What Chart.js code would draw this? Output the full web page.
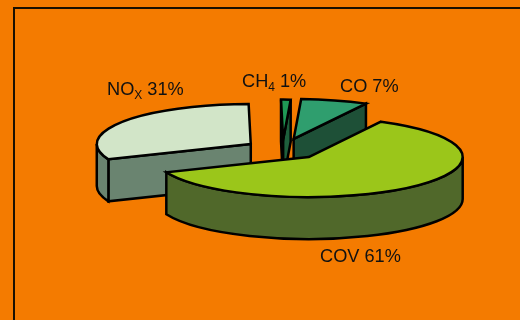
<!DOCTYPE html>
<html>
<head>
<meta charset="utf-8">
<style>
  html, body { margin: 0; padding: 0; background: #F47B00; }
  #wrap { width: 520px; height: 320px; }
</style>
<script src="https://cdn.jsdelivr.net/npm/chart.js@4"></script>
</head>
<body>
<div id="wrap"><canvas id="pie" width="520" height="320"></canvas></div>
<script>
const categories = ["COV", "NOx", "CH4", "CO"];
const shares = [61, 31, 1, 7];
const names = [["COV", ""], ["NO", "X"], ["CH", "4"], ["CO", ""]];

const topColors = ["#9BC61A", "#D2E5C8", "#1F9A55", "#2F9E6E"];
const sideColors = ["#50682A", "#6A8470", "#1E5F3C", "#1E5037"];
const explode = [39, 38, 38, 42];
const labelSpots = [[320, 262], [107, 95], [242, 87], [340, 92]];

// pie.js has no 3D mode, so the slices are extruded from the arc geometry
const extrudedPie = {
  id: "extrudedPie",
  beforeDatasetsDraw(chart, args, opts) {
    const ctx = chart.ctx;
    const arcs = chart.getDatasetMeta(0).data;
    const tilt = opts.tilt;
    const slices = arcs.map((arc, i) => {
      const p = arc.getProps(["x", "y", "startAngle", "endAngle", "outerRadius"]);
      const mid = (p.startAngle + p.endAngle) / 2;
      return {
        i,
        x: p.x + Math.cos(mid) * arc.options.offset,
        y: p.y + Math.sin(mid) * arc.options.offset * tilt,
        a: p.startAngle,
        b: p.endAngle,
        r: p.outerRadius,
        fill: arc.options.backgroundColor,
        stroke: arc.options.borderColor,
        width: arc.options.borderWidth
      };
    });

    // back slices first
    slices.sort((s, t) => s.y - t.y).forEach(s => {
      ctx.save();
      ctx.lineJoin = "miter";
      ctx.strokeStyle = s.stroke;
      ctx.lineWidth = s.width;
      ctx.fillStyle = opts.sides[s.i];

      // cut faces, only those turned towards the viewer
      if (Math.cos(s.a) < 0) wall(ctx, s, s.a, opts.depth, tilt);
      if (Math.cos(s.b) > 0) wall(ctx, s, s.b, opts.depth, tilt);

      // rim, the part on the front half of the ellipse
      for (let k = -1; k <= 1; k++) {
        const from = Math.max(s.a, k * 2 * Math.PI);
        const to = Math.min(s.b, k * 2 * Math.PI + Math.PI);
        if (to <= from) continue;
        ctx.beginPath();
        ctx.ellipse(s.x, s.y, s.r, s.r * tilt, 0, from, to);
        ctx.ellipse(s.x, s.y + opts.depth, s.r, s.r * tilt, 0, to, from, true);
        ctx.closePath();
        ctx.fill();
        ctx.stroke();
      }

      // top face
      ctx.fillStyle = s.fill;
      ctx.beginPath();
      ctx.moveTo(s.x, s.y);
      ctx.ellipse(s.x, s.y, s.r, s.r * tilt, 0, s.a, s.b);
      ctx.closePath();
      ctx.fill();
      ctx.stroke();
      ctx.restore();
    });
    return false;
  },
  afterDraw(chart, args, opts) {
    const ctx = chart.ctx;
    ctx.save();
    ctx.fillStyle = "#111";
    ctx.textBaseline = "alphabetic";
    names.forEach((n, i) => {
      let [x, y] = opts.spots[i];
      ctx.font = "18.2px 'Liberation Sans'";
      ctx.fillText(n[0], x, y);
      x += ctx.measureText(n[0]).width;
      if (n[1]) {
        ctx.font = "12px 'Liberation Sans'";
        ctx.fillText(n[1], x, y + 4);
        x += ctx.measureText(n[1]).width;
      }
      ctx.font = "18.2px 'Liberation Sans'";
      ctx.fillText(" " + shares[i] + "%", x, y);
    });
    ctx.restore();
  },
  beforeDraw(chart) {
    // frame runs off the right and bottom of the page
    const ctx = chart.ctx;
    ctx.save();
    ctx.strokeStyle = "#1a1000";
    ctx.lineWidth = 2;
    ctx.strokeRect(14, 8, 700, 500);
    ctx.restore();
  }
};

function wall(ctx, s, angle, depth, tilt) {
  const ex = s.x + Math.cos(angle) * s.r;
  const ey = s.y + Math.sin(angle) * s.r * tilt;
  ctx.beginPath();
  ctx.moveTo(s.x, s.y);
  ctx.lineTo(ex, ey);
  ctx.lineTo(ex, ey + depth);
  ctx.lineTo(s.x, s.y + depth);
  ctx.closePath();
  ctx.fill();
  ctx.stroke();
}

new Chart(document.getElementById("pie"), {
  type: "pie",
  data: {
    labels: categories,
    datasets: [{
      data: shares,
      backgroundColor: topColors,
      borderColor: "#000",
      borderWidth: 2.5,
      offset: explode
    }]
  },
  options: {
    responsive: false,
    animation: false,
    rotation: 28,
    radius: 154,
    layout: { padding: { left: 45, bottom: 21 } },
    plugins: {
      legend: { display: false },
      tooltip: { enabled: false },
      extrudedPie: { tilt: 0.26, depth: 42, sides: sideColors, spots: labelSpots }
    }
  },
  plugins: [extrudedPie]
});
</script>
</body>
</html>
